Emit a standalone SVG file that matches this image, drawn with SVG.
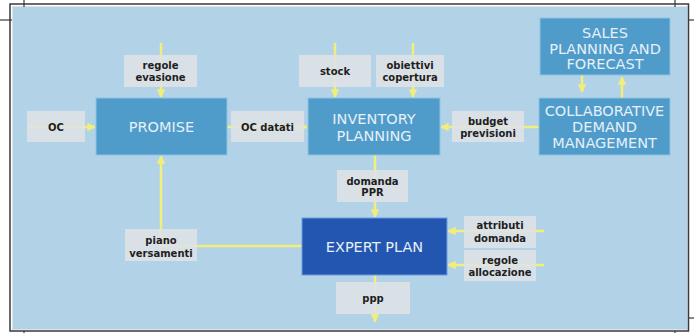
<svg xmlns="http://www.w3.org/2000/svg" width="694" height="333" viewBox="0 0 694 333">
<style>
.frame{fill:none;stroke:#3a3a3a;stroke-width:1.5}
.panel{fill:#b2d2e7;stroke:#d8e4ec;stroke-width:1}
.node{fill:#4f9ccb;stroke:#8fc2e2;stroke-width:1}
.dark{fill:#2356b0;stroke:#6f9be0;stroke-width:1}
.ntext{font-family:"DejaVu Sans",Verdana,sans-serif;font-size:14.5px;fill:#e6f0f8;text-anchor:middle}
.lbl{fill:#dfe3e6;fill-opacity:0.88}
.ltext{font-family:"DejaVu Sans",Verdana,sans-serif;font-size:10px;font-weight:bold;fill:#1e1e1e;text-anchor:middle}
.conn{stroke:#f2ee7a;stroke-width:2.5;fill:none}
</style>
<defs>
<marker id="ah" viewBox="0 0 10 10" refX="9" refY="5" markerWidth="3.4" markerHeight="3.4" orient="auto" markerUnits="strokeWidth">
<path d="M0,0 L10,5 L0,10 z" fill="#f2ee7a"/>
</marker>
</defs>
<rect x="0" y="0" width="694" height="333" fill="#ffffff"/>
<rect x="12.5" y="6.5" width="675" height="323" class="panel"/>
<rect x="10" y="4" width="678.5" height="327" class="frame"/>
<g stroke="#3a3a3a" stroke-width="1.2">
<line x1="24" y1="0" x2="24" y2="7"/>
<line x1="0" y1="20" x2="12" y2="20"/>
<line x1="675" y1="0" x2="675" y2="7"/>
<line x1="688" y1="20" x2="694" y2="20"/>
<line x1="688" y1="318" x2="694" y2="318"/>
<line x1="675" y1="331" x2="675" y2="333"/>
<line x1="24" y1="331" x2="24" y2="333"/>
</g>
<g id="connectors">
<line class="conn" x1="161" y1="43" x2="161" y2="97" marker-end="url(#ah)"/>
<line class="conn" x1="27" y1="127" x2="95" y2="127" marker-end="url(#ah)"/>
<line class="conn" x1="227" y1="127" x2="307" y2="127" marker-end="url(#ah)"/>
<line class="conn" x1="335" y1="43" x2="335" y2="97" marker-end="url(#ah)"/>
<line class="conn" x1="413" y1="43" x2="413" y2="97" marker-end="url(#ah)"/>
<line class="conn" x1="539" y1="127" x2="441" y2="127" marker-end="url(#ah)"/>
<line class="conn" x1="582" y1="75" x2="582" y2="92" marker-end="url(#ah)"/>
<line class="conn" x1="622" y1="98" x2="622" y2="77" marker-end="url(#ah)"/>
<line class="conn" x1="375" y1="155" x2="375" y2="217" marker-end="url(#ah)"/>
<line class="conn" x1="544" y1="231" x2="448" y2="231" marker-end="url(#ah)"/>
<line class="conn" x1="544" y1="265" x2="448" y2="265" marker-end="url(#ah)"/>
<line class="conn" x1="375" y1="275" x2="375" y2="322" marker-end="url(#ah)"/>
<polyline class="conn" points="302,246 161,246 161,156" marker-end="url(#ah)"/>
</g>
<g id="promise">
<rect x="96" y="98" width="131" height="57" class="node"/>
<text x="161.5" y="132" class="ntext">PROMISE</text>
</g>
<g id="inventory-planning">
<rect x="308" y="98" width="132" height="57" class="node"/>
<text x="374" y="124" class="ntext">INVENTORY</text>
<text x="374" y="141" class="ntext">PLANNING</text>
</g>
<g id="sales-planning">
<rect x="540" y="18" width="130" height="57" class="node"/>
<text x="605" y="37.5" class="ntext">SALES</text>
<text x="605" y="53.5" class="ntext">PLANNING AND</text>
<text x="605" y="69" class="ntext">FORECAST</text>
</g>
<g id="collaborative-demand">
<rect x="539" y="98" width="131" height="57" class="node"/>
<text x="604.5" y="115.5" class="ntext">COLLABORATIVE</text>
<text x="604.5" y="131.5" class="ntext">DEMAND</text>
<text x="604.5" y="148" class="ntext">MANAGEMENT</text>
</g>
<g id="expert-plan">
<rect x="302" y="218" width="145" height="57" class="dark"/>
<text x="374.5" y="252" class="ntext">EXPERT PLAN</text>
</g>
<g id="lbl-regole-evasione">
<rect x="124" y="55" width="73" height="32" class="lbl"/>
<text x="160.5" y="68.5" class="ltext">regole</text>
<text x="160.5" y="80.5" class="ltext">evasione</text>
</g>
<g id="lbl-oc">
<rect x="27" y="111" width="58" height="31" class="lbl"/>
<text x="56" y="130.5" class="ltext">OC</text>
</g>
<g id="lbl-oc-datati">
<rect x="231" y="111" width="73" height="31" class="lbl"/>
<text x="267.5" y="130.5" class="ltext">OC datati</text>
</g>
<g id="lbl-stock">
<rect x="299" y="55" width="72" height="32" class="lbl"/>
<text x="335" y="74.5" class="ltext">stock</text>
</g>
<g id="lbl-obiettivi">
<rect x="376" y="55" width="68" height="32" class="lbl"/>
<text x="410" y="68.5" class="ltext">obiettivi</text>
<text x="410" y="80.5" class="ltext">copertura</text>
</g>
<g id="lbl-budget">
<rect x="452" y="111" width="72" height="31" class="lbl"/>
<text x="488" y="125" class="ltext">budget</text>
<text x="488" y="136.5" class="ltext">previsioni</text>
</g>
<g id="lbl-domanda-ppr">
<rect x="337" y="170" width="71" height="32" class="lbl"/>
<text x="372.5" y="184.5" class="ltext">domanda</text>
<text x="372.5" y="195.5" class="ltext">PPR</text>
</g>
<g id="lbl-attributi">
<rect x="464" y="216" width="72" height="32" class="lbl"/>
<text x="500" y="228.5" class="ltext">attributi</text>
<text x="500" y="242" class="ltext">domanda</text>
</g>
<g id="lbl-regole-allocazione">
<rect x="464" y="250" width="72" height="31" class="lbl"/>
<text x="500" y="263.5" class="ltext">regole</text>
<text x="500" y="275.5" class="ltext">allocazione</text>
</g>
<g id="lbl-ppp">
<rect x="336" y="282" width="74" height="32" class="lbl"/>
<text x="373" y="301.5" class="ltext">ppp</text>
</g>
<g id="lbl-piano">
<rect x="125" y="229" width="72" height="32" class="lbl"/>
<text x="161" y="243.5" class="ltext">piano</text>
<text x="161" y="256.5" class="ltext">versamenti</text>
</g>
</svg>
